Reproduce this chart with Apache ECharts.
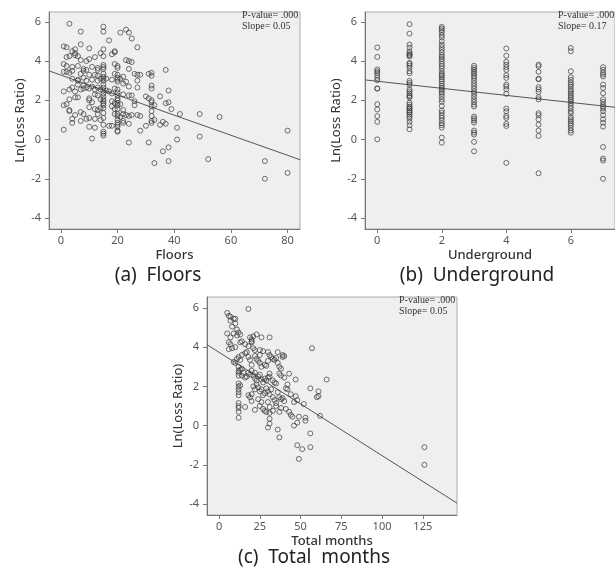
<!DOCTYPE html>
<html>
<head>
<meta charset="utf-8">
<script src="https://cdn.jsdelivr.net/npm/echarts@6/dist/echarts.min.js"></script>
<style>
  html, body { margin: 0; padding: 0; background: #fff; }
  #chart { width: 615px; height: 571px; }
</style>
</head>
<body>
<div id="chart"></div>
<script>
// (a) Floors vs Ln(Loss Ratio)
var floorsPts = [
  [3,5.9],[7,5.5],[15,5.75],[15,5.5],[17,5.05],[21,5.45],[23,5.6],[24,5.45],[25,5.15],
  [1,4.75],[2,4.7],[5,4.6],[7,4.85],[10,4.65],[15,4.6],[19,4.5],[19,4.45],[27,4.7],
  [4,4.5],[5,4.4],[5,4.3],[6,4.25],[3,4.25],[2,4.2],[12,4.2],[14,4.4],[15,4.25],[18,4.35],
  [7,4.05],[9,4.0],[10,4.1],[23,4.05],[24,4.0],[25,3.95],
  [1,3.85],[2,3.75],[4,3.7],[6,3.75],[8,3.6],[8,3.5],[9,3.55],[11,3.7],[13,3.65],[13,3.55],[15,3.8],[15,3.7],[15,3.6],[19,3.85],[20,3.75],[20,3.65],[24,3.6],[37,3.55],
  [1,3.45],[2,3.45],[3,3.4],[4,3.5],[7,3.35],[10,3.3],[12,3.3],[13,3.25],[15,3.35],[15,3.2],[15,3.1],[15,3.0],[19,3.35],[20,3.3],[20,3.15],[20,3.05],[20,2.95],[22,3.2],[26,3.35],[27,3.3],[28,3.3],[31,3.35],[32,3.4],[32,3.25],
  [4,3.1],[6,3.05],[6,3.0],[8,3.15],[9,3.0],[11,3.05],[13,3.0],[14,3.1],[16,3.1],[18,3.05],[21,3.1],[22,2.85],[23,2.95],[24,2.7],[27,3.0],[27,2.65],
  [1,2.45],[3,2.55],[4,2.65],[5,2.45],[6,2.8],[7,2.55],[8,2.6],[8,2.75],[9,2.65],[10,2.6],[11,2.7],[12,2.55],[13,2.65],[14,2.55],[15,2.8],[15,2.65],[15,2.5],[15,2.35],[16,2.5],[17,2.45],[18,2.35],[19,2.6],[20,2.55],[20,2.4],[20,2.25],[20,2.1],[20,2.0],[22,2.3],[24,2.25],[25,2.25],[32,2.75],[32,2.6],[38,2.5],
  [3,2.05],[5,2.15],[6,2.15],[10,2.1],[10,2.0],[12,2.3],[13,2.25],[14,2.05],[15,2.2],[15,2.05],[15,1.95],[15,1.85],[15,1.75],[18,1.95],[19,1.85],[20,1.85],[20,1.75],[21,1.8],[22,1.5],[26,1.95],[26,1.75],[30,2.2],[31,2.1],[32,2.0],[32,1.9],[33,1.75],[32,1.7],[35,2.2],[37,1.85],[38,1.9],
  [1,1.75],[2,1.8],[3,1.5],[3,1.45],[5,1.25],[7,1.4],[8,1.3],[10,1.65],[11,1.9],[12,1.55],[13,1.5],[13,1.3],[14,1.6],[15,1.6],[15,1.35],[15,1.1],[18,1.7],[19,1.55],[19,1.3],[20,1.55],[20,1.3],[20,1.2],[21,1.15],[22,1.3],[23,1.25],[24,1.2],[25,1.25],[27,1.25],[28,1.2],[32,1.45],[32,1.2],[33,1.0],[39,1.55],[42,1.3],[49,1.3],[56,1.15],
  [4,1.05],[4,0.85],[7,0.95],[9,1.05],[10,1.1],[12,1.05],[14,1.0],[15,0.75],[17,0.7],[18,0.7],[20,1.0],[20,0.85],[20,0.75],[20,0.65],[22,0.95],[22,0.85],[24,0.8],[32,0.95],[32,0.85],[35,0.75],[36,0.9],[37,0.8],
  [1,0.5],[10,0.65],[12,0.6],[15,0.4],[15,0.3],[15,0.2],[20,0.45],[20,0.4],[28,0.45],[30,0.7],[41,0.6],[49,0.15],[80,0.45],
  [11,0.05],[24,-0.15],[31,-0.15],[41,0.0],[36,-0.6],[38,-0.4],[33,-1.2],[38,-1.1],[52,-1.0],[72,-1.1],[72,-2.0],[80,-1.7]
];

// (b) Underground vs Ln(Loss Ratio)
var undergroundPts = [
  [0,4.69],[0,4.21],[0,3.57],[0,3.48],[0,3.4],[0,3.28],[0,3.14],[0,3.02],[0,2.6],[0,2.6],[0,1.8],[0,1.53],[0,1.19],[0,0.9],[0,0.01],
  [1,5.88],[1,5.4],[1,4.84],[1,4.69],[1,4.49],[1,4.4],[1,4.32],[1,4.3],[1,4.23],[1,3.9],[1,3.86],[1,3.76],[1,3.65],[1,3.48],[1,3.38],[1,2.99],[1,2.89],[1,2.79],[1,2.56],[1,2.46],[1,2.36],[1,2.26],[1,2.2],[1,2.14],[1,1.88],[1,1.78],[1,1.68],[1,1.6],[1,1.58],[1,1.48],[1,1.4],[1,1.37],[1,1.27],[1,1.17],[1,1.07],[1,0.9],[1,0.73],[1,0.52],
  [2,5.74],[2,5.66],[2,5.57],[2,5.46],[2,5.32],[2,5.2],[2,5.01],[2,4.84],[2,4.71],[2,4.57],[2,4.44],[2,4.3],[2,4.2],[2,4.1],[2,3.99],[2,3.86],[2,3.74],[2,3.62],[2,3.48],[2,3.35],[2,3.28],[2,3.18],[2,3.07],[2,2.97],[2,2.85],[2,2.73],[2,2.63],[2,2.53],[2,2.43],[2,2.33],[2,2.19],[2,2.05],[2,1.92],[2,1.71],[2,1.48],[2,1.36],[2,1.22],[2,1.1],[2,0.97],[2,0.83],[2,0.73],[2,0.61],[2,0.1],[2,-0.16],
  [3,3.76],[3,3.65],[3,3.55],[3,3.45],[3,3.35],[3,3.24],[3,3.14],[3,3.0],[3,2.87],[3,2.73],[3,2.6],[3,2.46],[3,2.33],[3,2.19],[3,2.05],[3,1.92],[3,1.78],[3,1.68],[3,1.17],[3,1.07],[3,0.97],[3,0.86],[3,0.46],[3,0.35],[3,0.25],[3,-0.12],[3,-0.6],
  [4,4.64],[4,4.27],[4,3.96],[4,3.82],[4,3.69],[4,3.55],[4,3.28],[4,3.14],[4,2.8],[4,2.7],[4,2.56],[4,2.33],[4,1.58],[4,1.44],[4,1.2],[4,1.1],[4,0.8],[4,0.69],[4,-1.19],
  [5,3.82],[5,3.74],[5,3.45],[5,3.1],[5,3.07],[5,2.67],[5,2.56],[5,2.43],[5,2.16],[5,2.05],[5,1.34],[5,1.24],[5,1.03],[5,0.76],[5,0.46],[5,0.18],[5,-1.72],
  [6,4.67],[6,4.5],[6,3.48],[6,3.18],[6,3.04],[6,2.9],[6,2.8],[6,2.7],[6,2.56],[6,2.46],[6,2.36],[6,2.26],[6,2.16],[6,2.05],[6,1.95],[6,1.85],[6,1.71],[6,1.58],[6,1.44],[6,1.34],[6,1.14],[6,1.03],[6,0.93],[6,0.83],[6,0.73],[6,0.59],[6,0.46],[6,0.35],
  [7,3.69],[7,3.55],[7,3.41],[7,3.31],[7,3.21],[7,2.8],[7,2.63],[7,2.36],[7,2.05],[7,1.92],[7,1.78],[7,1.68],[7,1.58],[7,1.44],[7,1.24],[7,1.03],[7,0.86],[7,0.66],[7,-0.38],[7,-0.97],[7,-1.07],[7,-2.0]
];

// (c) Total months vs Ln(Loss Ratio)
var monthsPts = [
  [18,5.95],[5,5.75],[6,5.6],[7,5.55],[9,5.45],[10,5.45],[7,5.35],[10,5.2],[8,5.05],[11,4.9],[12,4.75],[9,4.7],[13,4.65],[5,4.7],[7,4.5],[11,4.6],[19,4.5],[21,4.55],[23,4.65],[26,4.5],[31,4.5],[20,4.4],[20,4.3],
  [6,4.25],[7,4.15],[6,3.9],[8,3.95],[10,4.0],[13,4.25],[14,4.3],[16,4.15],[18,4.05],[20,4.25],[21,3.95],[22,3.85],[25,3.85],[27,3.8],[30,3.75],[36,3.75],[39,3.6],[39,3.5],[57,3.95],
  [9,3.25],[10,3.2],[11,3.4],[12,3.5],[13,3.35],[14,3.6],[16,3.7],[17,3.75],[18,3.5],[19,3.35],[20,3.1],[22,3.55],[23,3.4],[24,3.3],[25,3.6],[25,3.2],[26,3.0],[28,3.1],[29,3.05],[30,3.3],[31,3.6],[32,3.5],[33,3.4],[34,3.35],[35,3.45],[36,3.2],[37,3.0],[38,2.9],[40,3.55],
  [12,3.0],[12,2.8],[12,2.7],[12,2.55],[13,2.85],[14,2.9],[14,2.55],[15,2.7],[16,2.45],[17,2.5],[18,2.7],[19,2.6],[20,2.8],[21,2.55],[22,2.4],[22,2.7],[23,2.3],[24,2.5],[25,2.6],[26,2.35],[27,2.2],[28,2.4],[29,2.3],[30,2.45],[31,2.65],[31,2.5],[33,2.3],[34,2.2],[35,2.15],[37,2.65],[38,2.55],[40,2.45],[42,2.1],[43,2.65],[47,2.35],[66,2.35],
  [12,2.15],[12,2.0],[12,1.85],[12,1.7],[12,1.55],[13,2.05],[18,1.55],[19,1.45],[20,1.6],[21,2.0],[22,1.85],[23,2.1],[24,1.95],[25,1.75],[26,1.85],[27,1.55],[28,1.65],[29,1.9],[30,1.75],[31,1.6],[32,1.85],[33,1.45],[34,1.3],[35,1.15],[36,1.7],[37,1.45],[38,1.35],[40,1.25],[41,1.9],[42,1.85],[44,1.6],[47,1.5],[48,1.3],[52,1.1],[56,1.9],[60,1.45],[61,1.75],[61,1.5],
  [12,1.15],[12,1.0],[12,0.9],[12,0.7],[12,0.4],[16,0.95],[20,1.25],[22,0.8],[24,1.35],[25,1.0],[26,1.2],[27,0.85],[28,0.75],[29,0.7],[30,1.2],[31,0.95],[31,0.65],[31,0.35],[33,0.75],[35,1.0],[37,0.7],[38,0.9],[39,1.4],[41,0.85],[43,0.7],[44,0.55],[45,0.45],[46,1.2],[49,0.45],[53,0.4],[53,0.25],[62,0.5],
  [30,-0.1],[31,0.1],[36,-0.2],[37,-0.6],[46,0.0],[48,0.15],[48,-1.0],[51,-1.2],[49,-1.7],[56,-0.4],[56,-1.1],[126,-1.1],[126,-2.0]
];

// fitted lines: [intercept, slope]
var fitFloors = [3.285, -0.0511];
var fitUnderground = [2.97, -0.18];
var fitMonths = [3.74, -0.0527];

var yTicks = [-4, -2, 0, 2, 4, 6];
var floorsTicks = [0, 20, 40, 60, 80];
var undergroundTicks = [0, 2, 4, 6];
var monthsTicks = [0, 25, 50, 75, 100, 125];

var notes = [
  ['P-value= .000', 'Slope= 0.05'],
  ['P-value= .000', 'Slope= 0.17'],
  ['P-value= .000', 'Slope= 0.05']
];
var captions = ['(a)  Floors', '(b)  Underground', '(c)  Total  months'];

var xRanges = [[-4.2, 84.4], [-0.38, 7.37], [-7.4, 146]];
var yRanges = [[-4.56, 6.5], [-4.56, 6.5], [-4.56, 6.56]];

var chart = echarts.init(document.getElementById('chart'));

var font = 'Noto Sans';
function xAxisOf(i, name, ticks) {
  return {
    gridIndex: i, type: 'value', min: xRanges[i][0], max: xRanges[i][1],
    name: name, nameLocation: 'middle', nameGap: 20,
    nameTextStyle: { fontFamily: font, fontSize: 13, color: '#333', fontWeight: 500 },
    axisLine: { onZero: false, lineStyle: { color: '#777' } },
    axisTick: { show: true, length: 4, lineStyle: { color: '#777' }, customValues: ticks },
    axisLabel: { fontFamily: font, fontSize: 11, color: '#555', margin: 6, customValues: ticks },
    splitLine: { show: false }
  };
}
function yAxisOf(i) {
  return {
    gridIndex: i, type: 'value', min: yRanges[i][0], max: yRanges[i][1],
    name: 'Ln(Loss Ratio)', nameLocation: 'middle', nameGap: 22, nameRotate: 90,
    nameTextStyle: { fontFamily: font, fontSize: 13, color: '#333' },
    axisLine: { show: true, onZero: false, lineStyle: { color: '#777' } },
    axisTick: { show: true, length: 4, lineStyle: { color: '#777' }, customValues: yTicks },
    axisLabel: { fontFamily: font, fontSize: 11, color: '#555', margin: 8, customValues: yTicks },
    splitLine: { show: false }
  };
}
function scatterOf(i, pts) {
  return {
    type: 'scatter', xAxisIndex: i, yAxisIndex: i, data: pts,
    symbol: 'circle', symbolSize: 5, silent: true,
    itemStyle: { color: 'rgba(0,0,0,0)', borderColor: '#3a3a3a', borderWidth: 0.9 }
  };
}
function fitOf(i, fit) {
  var x0 = xRanges[i][0], x1 = xRanges[i][1];
  return {
    type: 'line', xAxisIndex: i, yAxisIndex: i, showSymbol: false, silent: true,
    data: [[x0, fit[0] + fit[1] * x0], [x1, fit[0] + fit[1] * x1]],
    lineStyle: { color: '#555', width: 1 }, z: 1
  };
}

var gridBase = { show: true, backgroundColor: '#efefef', borderColor: '#aaa', borderWidth: 1 };
var capFont = '19px "Noto Sans"';

var option = {
  backgroundColor: '#fff',
  animation: false,
  grid: [
    Object.assign({ left: 49, top: 12, width: 251, height: 217 }, gridBase),
    Object.assign({ left: 365, top: 12, width: 250, height: 217 }, gridBase),
    Object.assign({ left: 207, top: 297, width: 250, height: 218 }, gridBase)
  ],
  xAxis: [
    xAxisOf(0, 'Floors', floorsTicks),
    xAxisOf(1, 'Underground', undergroundTicks),
    xAxisOf(2, 'Total months', monthsTicks)
  ],
  yAxis: [yAxisOf(0), yAxisOf(1), yAxisOf(2)],
  series: [
    scatterOf(0, floorsPts), fitOf(0, fitFloors),
    scatterOf(1, undergroundPts), fitOf(1, fitUnderground),
    scatterOf(2, monthsPts), fitOf(2, fitMonths)
  ],
  graphic: [
    { type: 'text', left: 242, top: 10, style: { text: notes[0].join('\n'), font: '10px "Liberation Serif"', fill: '#333', lineHeight: 11 } },
    { type: 'text', left: 558, top: 10, style: { text: notes[1].join('\n'), font: '10px "Liberation Serif"', fill: '#333', lineHeight: 11 } },
    { type: 'text', left: 399, top: 295, style: { text: notes[2].join('\n'), font: '10px "Liberation Serif"', fill: '#333', lineHeight: 11 } },
    { type: 'text', x: 158, y: 276, style: { text: captions[0], font: capFont, fill: '#222', align: 'center', verticalAlign: 'middle' } },
    { type: 'text', x: 477, y: 276, style: { text: captions[1], font: capFont, fill: '#222', align: 'center', verticalAlign: 'middle' } },
    { type: 'text', x: 314, y: 558, style: { text: captions[2], font: capFont, fill: '#222', align: 'center', verticalAlign: 'middle' } }
  ]
};

chart.setOption(option);
</script>
</body>
</html>
